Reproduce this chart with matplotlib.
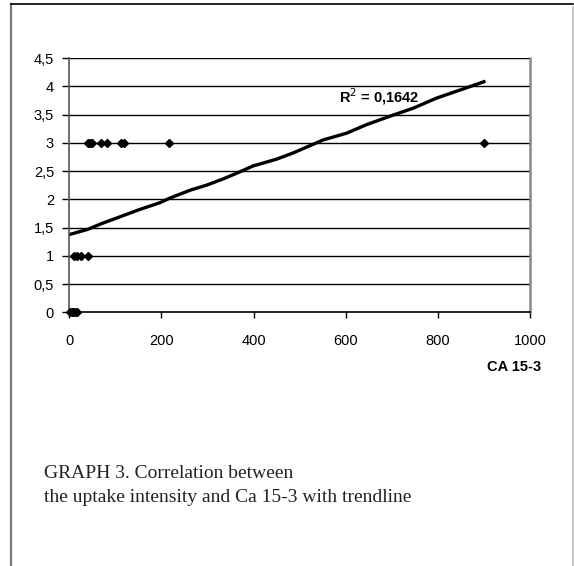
import matplotlib
matplotlib.use("Agg")
import matplotlib.pyplot as plt
from matplotlib.lines import Line2D
from matplotlib.ticker import FuncFormatter

# CA 15-3 values and uptake intensity
ca_0 = [2, 5, 8, 11, 14, 17]
ca_1 = [10, 16, 25, 41]
ca_3 = [41, 45, 49, 69, 81, 112, 118, 217, 900]
ca = ca_0 + ca_1 + ca_3
uptake = [0] * len(ca_0) + [1] * len(ca_1) + [3] * len(ca_3)

# trendline as drawn in the picture
trend_x = [2, 41, 67, 153, 197, 218, 262, 298, 334, 363, 399, 450, 486, 551,
           602, 645, 703, 746, 797, 847, 900]
trend_y = [1.38, 1.47, 1.56, 1.82, 1.94, 2.02, 2.16, 2.25, 2.36, 2.46, 2.59,
           2.71, 2.82, 3.05, 3.17, 3.32, 3.49, 3.61, 3.79, 3.93, 4.08]
r2_text = "R$^2$ = 0,1642"

x_ticks = [0, 200, 400, 600, 800, 1000]
y_ticks = [0, 0.5, 1, 1.5, 2, 2.5, 3, 3.5, 4, 4.5]

W, H = 574, 566
fig = plt.figure(figsize=(W / 100, H / 100), dpi=100)
plt.rcParams['font.family'] = ['Liberation Sans', 'DejaVu Sans']

left, right, top, bottom = 69.3, 530, 58, 312.3
ax = fig.add_axes([left / W, 1 - bottom / H, (right - left) / W, (bottom - top) / H])
ax.set_xlim(0, 1000)
ax.set_ylim(0, 4.5)

for yv in y_ticks[1:]:
    ax.axhline(yv, color='black', lw=1.0, zorder=1)

ax.plot(trend_x, trend_y, color='black', lw=2.4, zorder=2)
ax.plot(ca, uptake, linestyle='none', marker='D', markersize=4.5,
        color='black', zorder=3, clip_on=False)

ax.text(0.585, 0.848, r2_text, transform=ax.transAxes, fontsize=10.5,
        fontweight='bold', ha='left', va='center')

ax.set_xticks(x_ticks)
ax.set_yticks(y_ticks)
ax.yaxis.set_major_formatter(FuncFormatter(lambda v, p: ('%g' % v).replace('.', ',')))
ax.tick_params(axis='both', direction='out', width=1, labelsize=10.5, color='black')
ax.tick_params(axis='x', length=4.5, pad=11)
ax.tick_params(axis='y', length=5, pad=6)

ax.spines['top'].set_visible(False)
ax.spines['left'].set_color('#555555')
ax.spines['left'].set_linewidth(1.2)
ax.spines['bottom'].set_color('black')
ax.spines['bottom'].set_linewidth(1.2)
ax.spines['right'].set_color('#888888')
ax.spines['right'].set_linewidth(1.8)

fig.text(541 / W, 1 - 367 / H, "CA 15-3", fontsize=10.5, fontweight='bold',
         ha='right', va='center')

# caption
cap_font = ['Liberation Serif', 'DejaVu Serif']
fig.text(44 / W, 1 - 473 / H, "GRAPH 3. Correlation between", family=cap_font,
         fontsize=14, color='#222222', ha='left', va='center')
fig.text(44 / W, 1 - 497 / H, "the uptake intensity and Ca 15-3 with trendline",
         family=cap_font, fontsize=14, color='#222222', ha='left', va='center')

# page frame
fig.add_artist(Line2D([11 / W, 11 / W], [0, 1 - 4 / H], color='#777777', lw=1.6))
fig.add_artist(Line2D([11 / W, 573 / W], [1 - 4 / H, 1 - 4 / H], color='black', lw=1.2))
fig.add_artist(Line2D([572.5 / W, 572.5 / W], [0, 1 - 7 / H], color='#bbbbbb', lw=1.2))

fig.savefig("out.png", dpi=100, facecolor='white')
